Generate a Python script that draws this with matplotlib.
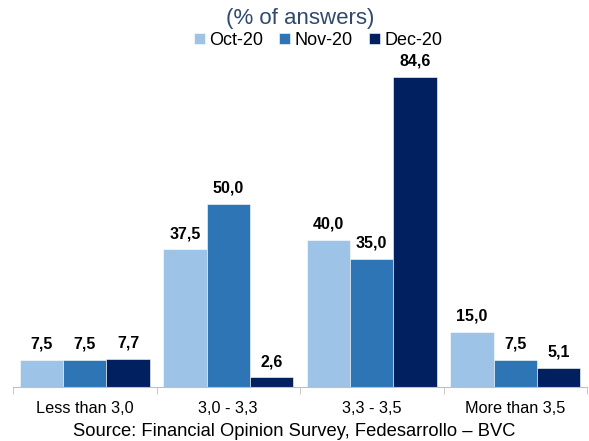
import numpy as np
import matplotlib.pyplot as plt

plt.rcParams['font.family'] = ['Liberation Sans', 'DejaVu Sans']

categorias = ['Less than 3,0', '3,0 - 3,3', '3,3 - 3,5', 'More than 3,5']
series = ['Oct-20', 'Nov-20', 'Dec-20']
oct20 = [7.5, 37.5, 40.0, 15.0]
nov20 = [7.5, 50.0, 35.0, 7.5]
dic20 = [7.7, 2.6, 84.6, 5.1]
colores = ['#9DC3E6', '#2E75B6', '#002060']

fig = plt.figure(figsize=(5.89, 4.41), dpi=100)
ax = fig.add_axes([13 / 589, 54 / 441, 574 / 589, 330 / 441])

x = np.arange(len(categorias))
ancho = 0.302
for i, (valores, nombre, color) in enumerate(zip([oct20, nov20, dic20], series, colores)):
    pos = x + (i - 1) * ancho
    barras = ax.bar(pos, valores, ancho, color=color, label=nombre, edgecolor='white', linewidth=0.4)
    for b, v in zip(barras, valores):
        ax.text(b.get_x() + b.get_width() / 2, v + 2.3, f'{v:.1f}'.replace('.', ','),
                ha='center', va='bottom', fontsize=11.5, fontweight='bold', color='black')

ax.set_xlim(-0.5, 3.5)
ax.set_ylim(0, 90)
ax.set_yticks([])
for lado in ['top', 'right', 'left']:
    ax.spines[lado].set_visible(False)
ax.spines['bottom'].set_color('#BFBFBF')
ax.set_xticks(x)
ax.set_xticklabels(categorias, fontsize=11.7)
ax.tick_params(axis='x', length=0, pad=10)
# marcas entre categorias
ax.set_xticks(np.arange(-0.5, 4, 1), minor=True)
ax.tick_params(axis='x', which='minor', length=5, color='#BFBFBF')

fig.text(0.51, 0.958, '(% of answers)', ha='center', va='center', fontsize=16, color='#2F4A6E')
fig.legend(loc='center', bbox_to_anchor=(0.54, 0.908), ncol=3, frameon=False, fontsize=13,
           handlelength=0.6, handleheight=0.6, handletextpad=0.25, columnspacing=0.9, borderpad=0)
fig.text(0.5, 0.022, 'Source: Financial Opinion Survey, Fedesarrollo – BVC', ha='center', va='center',
         fontsize=13.2)

fig.savefig('out.png', dpi=100)
